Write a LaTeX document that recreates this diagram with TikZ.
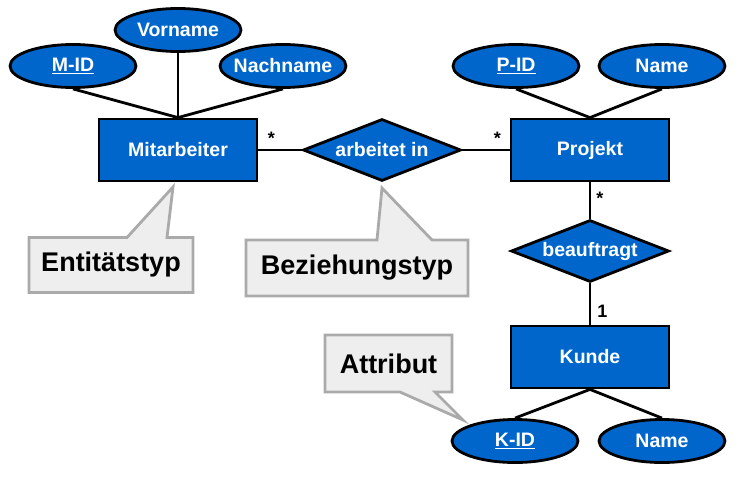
\documentclass[tikz,border=0pt]{standalone}
\usepackage{fontspec}
\setmainfont{Liberation Sans}
\usetikzlibrary{shapes.geometric, backgrounds}
\usetikzlibrary{positioning}
\definecolor{erblue}{HTML}{0066CC}
\definecolor{notefill}{HTML}{EEEEEE}
\definecolor{notedraw}{HTML}{AAAAAA}
\tikzstyle{entity_node} = [
    rectangle,
    white,
    font=\bfseries\fontsize{19.5}{22}\selectfont,
    draw=black,
    fill=erblue,
    line width=2.8pt,
    inner sep=0pt,
    minimum width=158pt,
    minimum height=62pt
]
\tikzstyle{rel_node} = [
    diamond,
    aspect=2.5,
    white,
    font=\bfseries\fontsize{19.5}{22}\selectfont,
    draw=black,
    fill=erblue,
    line width=2.8pt,
    inner sep=0pt,
    minimum width=158pt,
    minimum height=62pt
]
\tikzstyle{attr_node} = [
    ellipse,
    white,
    font=\bfseries\fontsize{19.5}{22}\selectfont,
    draw=black,
    fill=erblue,
    line width=2.8pt,
    inner xsep=-14pt, % keeps long names inside the fixed size
    inner ysep=0pt,
    minimum width=126pt,
    minimum height=43pt
]
\tikzstyle{note_text} = [
    rectangle,
    black,
    font=\bfseries\fontsize{27}{30}\selectfont,
    inner sep=0pt,
    outer sep=0pt
]
\tikzstyle{note_box} = [
    draw=notedraw,
    fill=notefill,
    line width=2.8pt
]
\tikzstyle{link} = [
    draw=black,
    line width=2.8pt
]
\tikzstyle{card_label} = [
    black,
    font=\bfseries\fontsize{18}{20}\selectfont,
    inner sep=0pt
]

\begin{document}
\begin{tikzpicture}[x=1pt, y=-1pt]
\useasboundingbox (0,0) rectangle (739,477);

% entities and relationships
\node [entity_node] (mitarbeiter) at (178,150) {Mitarbeiter};
\node [entity_node] (projekt) at (590,150) {Projekt};
\node [entity_node] (kunde) at (590,357) {Kunde};
\node [rel_node] (arbeitet) at (382,150) {arbeitet in};
\node [rel_node] (beauftragt) at (590,251) {beauftragt};

% attributes
\node [attr_node] (mid) at (73,66) {\underline{M-ID}};
\node [attr_node] (vorname) at (178,30) {Vorname};
\node [attr_node] (nachname) at (283,66) {Nachname};
\node [attr_node] (pid) at (516,66) {\underline{P-ID}};
\node [attr_node] (pname) at (662,66) {Name};
\node [attr_node] (kid) at (515,441) {\underline{K-ID}};
\node [attr_node] (kname) at (662,441) {Name};

\begin{pgfonlayer}{background}
\draw [link] (mid.south) -- (mitarbeiter.north);
\draw [link] (vorname.south) -- (mitarbeiter.north);
\draw [link] (nachname.south) -- (mitarbeiter.north);
\draw [link] (pid.south) -- (projekt.north);
\draw [link] (pname.south) -- (projekt.north);
\draw [link] (kunde.south) -- (kid.north);
\draw [link] (kunde.south) -- (kname.north);
\end{pgfonlayer}

% relations with cardinalities
\draw [link] (mitarbeiter) -- node [card_label, pos=.3, above=4pt] {*} (arbeitet);
\draw [link] (arbeitet) -- node [card_label, pos=.74, above=4pt] {*} (projekt);
\draw [link] (projekt) -- node [card_label, pos=.45, right=5pt] {*} (beauftragt);
\draw [link] (beauftragt) -- node [card_label, pos=.67, right=6pt] {1} (kunde);

% notes
\node [note_text] (ent_note) at (111,265) [minimum width=164pt, minimum height=55pt] {Entitätstyp};
\node [note_text] (rel_note) at (357,268) [minimum width=222pt, minimum height=56pt] {Beziehungstyp};
\node [note_text] (att_note) at (388.5,363.5) [minimum width=127pt, minimum height=57pt] {Attribut};
\coordinate (ent_tip) at (173,187);
\coordinate (rel_tip) at (382,188);
\coordinate (att_tip) at (463,420);

\begin{pgfonlayer}{background}
\draw [note_box] (ent_note.south west) -- (ent_note.north west) -- ([xshift=16pt]ent_note.north)
    -- (ent_tip) -- ([xshift=56pt]ent_note.north) -- (ent_note.north east) -- (ent_note.south east) -- cycle;
\draw [note_box] (rel_note.south west) -- (rel_note.north west) -- ([xshift=20pt]rel_note.north)
    -- (rel_tip) -- ([xshift=75pt]rel_note.north) -- (rel_note.north east) -- (rel_note.south east) -- cycle;
\draw [note_box] (att_note.north west) -- (att_note.north east) -- (att_note.south east) -- ([xshift=46.5pt]att_note.south)
    -- (att_tip) -- ([xshift=11.5pt]att_note.south) -- (att_note.south west) -- cycle;
\end{pgfonlayer}
\end{tikzpicture}
\end{document}
